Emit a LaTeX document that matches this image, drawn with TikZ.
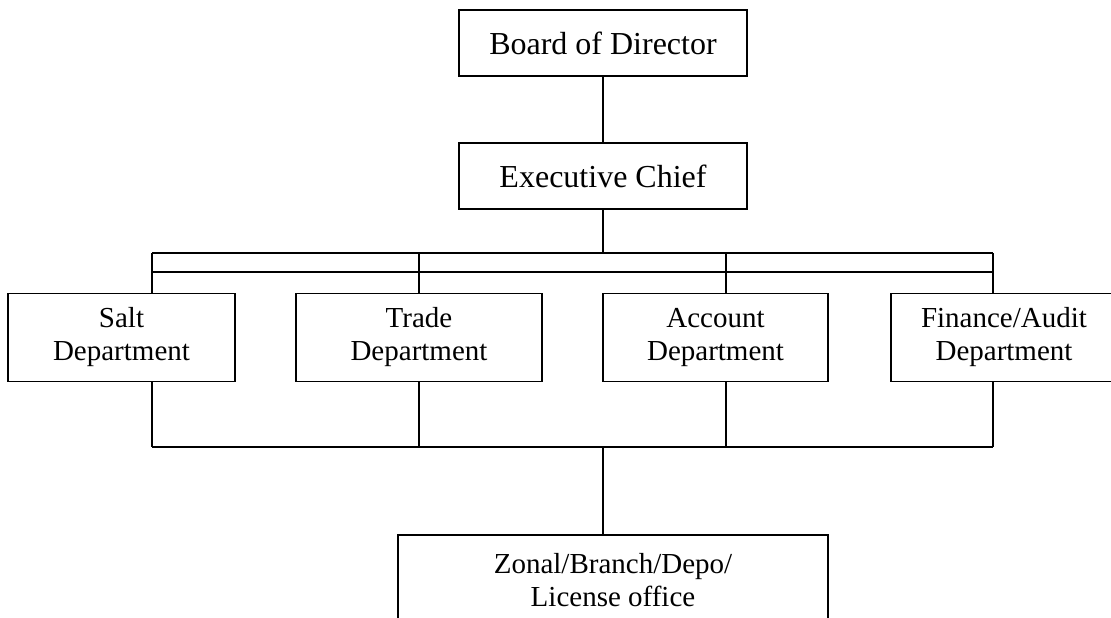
\documentclass[tikz,border=0pt]{standalone}
\usepackage{fontspec}
\setmainfont{Liberation Serif}
\begin{document}
\begin{tikzpicture}[x=1pt,y=1pt,line width=1.8pt,
  topbox/.style={draw,rectangle,inner sep=0pt,minimum width=288,minimum height=66,
    font=\fontsize{32}{36}\selectfont},
  deptbox/.style={draw,rectangle,inner sep=0pt,minimum height=88,align=center,
    font=\fontsize{29}{33}\selectfont}]
\useasboundingbox (0,0) rectangle (1111,-618);
\clip (0,0) rectangle (1111,-618);

% management
\node[topbox] (board) at (603,-43) {Board of Director};
\node[topbox] (exec) at (603,-176) {Executive Chief};

% departments
\node[deptbox,minimum width=227] (salt)    at (121.5,-337.5) {Salt\\Department};
\node[deptbox,minimum width=246] (trade)   at (419,-337.5)   {Trade\\Department};
\node[deptbox,minimum width=225] (account) at (715.5,-337.5) {Account\\Department};
\node[deptbox,minimum width=226] (finance) at (1004,-337.5)  {Finance/Audit\\Department};

% field offices
\node[deptbox,minimum width=430,minimum height=90] (zone) at (613,-580)
  {Zonal/Branch/Depo/\\License office};

% double bus under the executive chief
\coordinate (busA) at (603,-253);
\coordinate (tapS) at (152,-253);
\coordinate (tapT) at (419,-253);
\coordinate (tapA) at (726,-253);
\coordinate (tapF) at (993,-253);
\coordinate (busL) at (152,-272);
\coordinate (busR) at (993,-272);

% collecting bus above the offices
\coordinate (lowS) at (152,-447);
\coordinate (lowT) at (419,-447);
\coordinate (lowA) at (726,-447);
\coordinate (lowF) at (993,-447);
\coordinate (lowM) at (603,-447);

\draw (board) -- (exec);
\draw (exec) -- (busA);
\draw (tapS) -- (tapF);
\draw (busL) -- (busR);
\draw (tapS) -- (tapS |- salt.north);
\draw (tapT) -- (tapT |- trade.north);
\draw (tapA) -- (tapA |- account.north);
\draw (tapF) -- (tapF |- finance.north);

\draw (lowS |- salt.south) -- (lowS);
\draw (lowT |- trade.south) -- (lowT);
\draw (lowA |- account.south) -- (lowA);
\draw (lowF |- finance.south) -- (lowF);
\draw (lowS) -- (lowF);
\draw (lowM) -- (lowM |- zone.north);
\end{tikzpicture}
\end{document}
